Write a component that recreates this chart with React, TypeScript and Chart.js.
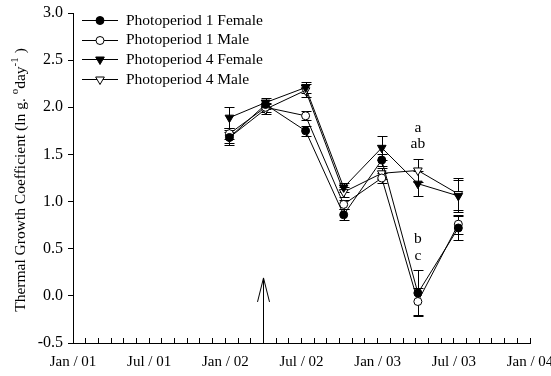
import React, { useEffect, useRef } from 'react';
import { Chart, registerables } from 'chart.js';
import { drawPoint } from 'chart.js/helpers';

Chart.register(...registerables);

// ---------- data ----------
const sampleDates = ['2002-01-11', '2002-04-06', '2002-07-11', '2002-10-11', '2003-01-11', '2003-04-06', '2003-07-12'];
const seriesNames = ['Photoperiod 1 Female', 'Photoperiod 1 Male', 'Photoperiod 4 Female', 'Photoperiod 4 Male'];

const p1Female = [1.68, 2.03, 1.75, 0.86, 1.44, 0.03, 0.72];
const p1Male = [1.72, 2.0, 1.91, 0.97, 1.25, -0.06, 0.76];
const p4Female = [1.89, 2.05, 2.21, 1.15, 1.57, 1.19, 1.06];
const p4Male = [1.68, 1.98, 2.18, 1.1, 1.3, 1.33, 1.08];

const p1FemaleErr = [0.06, 0.05, 0.05, 0.06, 0.06, 0.24, 0.13];
const p1MaleErr = [0.06, 0.05, 0.05, 0.05, 0.05, 0.14, 0.1];
const p4FemaleErr = [0.11, 0.05, 0.06, 0.05, 0.13, 0.13, 0.17];
const p4MaleErr = [0.08, 0.05, 0.07, 0.05, 0.06, 0.12, 0.17];

const axisStartYear = 2001;
const axisMonths = 36;
const majorEveryMonths = 6;
const majorMonthNames = ['Jan', 'Jul'];

const yMin = -0.5;
const yMax = 3.0;
const yStep = 0.5;

const letterLabels = ['a', 'ab', 'b', 'c'];
const letterValues = [1.78, 1.61, 0.6, 0.42];
const letterDate = '2003-04-06';

const arrowDate = '2002-04-01';
const arrowTipValue = 0.19;

const titleParts = [
  { text: 'Thermal Growth Coefficient (ln g. ', sup: false },
  { text: 'o', sup: true },
  { text: 'day', sup: false },
  { text: '-1', sup: true },
  { text: ' )', sup: false },
];

// ---------- helpers ----------
const FONT = 'Liberation Serif';

function toMonths(date: string): number {
  const [y, m, d] = date.split('-').map(Number);
  const dim = new Date(y, m, 0).getDate();
  return (y - axisStartYear) * 12 + (m - 1) + (d - 1) / dim;
}

const seriesValues = [p1Female, p1Male, p4Female, p4Male];
const seriesErrors = [p1FemaleErr, p1MaleErr, p4FemaleErr, p4MaleErr];
const seriesStyle = [
  { pointStyle: 'circle', rotation: 0, fill: '#000000', radius: 4 },
  { pointStyle: 'circle', rotation: 0, fill: '#ffffff', radius: 4 },
  { pointStyle: 'triangle', rotation: 180, fill: '#000000', radius: 5 },
  { pointStyle: 'triangle', rotation: 180, fill: '#ffffff', radius: 5 },
];

const errorBarsPlugin = {
  id: 'errorBars',
  beforeDatasetsDraw(chart: any) {
    const ctx = chart.ctx;
    const yScale = chart.scales.y;
    ctx.save();
    ctx.strokeStyle = '#000';
    ctx.lineWidth = 1;
    chart.data.datasets.forEach((ds: any, i: number) => {
      const meta = chart.getDatasetMeta(i);
      meta.data.forEach((el: any, j: number) => {
        const v = ds.data[j].y;
        const e = ds.errors[j];
        const x = Math.round(el.x) + 0.5;
        const yt = Math.round(yScale.getPixelForValue(v + e)) + 0.5;
        const yb = Math.round(yScale.getPixelForValue(v - e)) + 0.5;
        ctx.beginPath();
        ctx.moveTo(x, yt);
        ctx.lineTo(x, yb);
        ctx.moveTo(x - 5, yt);
        ctx.lineTo(x + 5, yt);
        ctx.moveTo(x - 5, yb);
        ctx.lineTo(x + 5, yb);
        ctx.stroke();
      });
    });
    ctx.restore();
  },
};

const annotationsPlugin = {
  id: 'annotations',
  afterDatasetsDraw(chart: any) {
    const ctx = chart.ctx;
    const xs = chart.scales.x;
    const ys = chart.scales.y;
    ctx.save();
    ctx.fillStyle = '#000';
    ctx.font = `15.5px "${FONT}"`;
    ctx.textAlign = 'center';
    ctx.textBaseline = 'middle';
    const lx = xs.getPixelForValue(toMonths(letterDate));
    letterLabels.forEach((t, i) => {
      ctx.fillText(t, lx, ys.getPixelForValue(letterValues[i]));
    });
    // arrow
    const ax = Math.round(xs.getPixelForValue(toMonths(arrowDate))) + 0.5;
    const ay0 = ys.getPixelForValue(yMin);
    const ay1 = ys.getPixelForValue(arrowTipValue);
    ctx.strokeStyle = '#000';
    ctx.lineWidth = 1;
    ctx.beginPath();
    ctx.moveTo(ax, ay0);
    ctx.lineTo(ax, ay1);
    ctx.moveTo(ax - 6, ay1 + 24);
    ctx.lineTo(ax, ay1);
    ctx.lineTo(ax + 6, ay1 + 24);
    ctx.stroke();
    ctx.restore();
  },
};

const legendPlugin = {
  id: 'customLegend',
  afterDraw(chart: any) {
    const ctx = chart.ctx;
    ctx.save();
    ctx.font = `15.5px "${FONT}"`;
    ctx.textBaseline = 'middle';
    ctx.textAlign = 'left';
    chart.data.datasets.forEach((ds: any, i: number) => {
      const y = 20 + i * 19.7;
      const yy = Math.round(y) + 0.5;
      ctx.strokeStyle = '#000';
      ctx.lineWidth = 1;
      ctx.beginPath();
      ctx.moveTo(82, yy);
      ctx.lineTo(118, yy);
      ctx.stroke();
      const st = seriesStyle[i];
      ctx.fillStyle = st.fill;
      ctx.strokeStyle = '#000';
      drawPoint(ctx, { pointStyle: st.pointStyle, rotation: st.rotation, radius: st.radius, borderWidth: 1 } as any, 100, yy);
      ctx.fillStyle = '#000';
      ctx.fillText(ds.label, 126, y + 0.5);
    });
    ctx.restore();
  },
};

const titlePlugin = {
  id: 'yTitle',
  afterDraw(chart: any) {
    const ctx = chart.ctx;
    const ca = chart.chartArea;
    const normal = `15.5px "${FONT}"`;
    const small = `11px "${FONT}"`;
    ctx.save();
    let total = 0;
    titleParts.forEach((p) => {
      ctx.font = p.sup ? small : normal;
      total += ctx.measureText(p.text).width;
    });
    ctx.translate(21, (ca.top + ca.bottom) / 2 + 2);
    ctx.rotate(-Math.PI / 2);
    ctx.fillStyle = '#000';
    ctx.textBaseline = 'middle';
    ctx.textAlign = 'left';
    let x = -total / 2;
    titleParts.forEach((p) => {
      ctx.font = p.sup ? small : normal;
      ctx.fillText(p.text, x, p.sup ? -6 : 0);
      x += ctx.measureText(p.text).width;
    });
    ctx.restore();
  },
};

export default function App() {
  const canvasRef = useRef<HTMLCanvasElement | null>(null);

  useEffect(() => {
    const canvas = canvasRef.current;
    if (!canvas) return;
    Chart.defaults.font.family = FONT;
    Chart.defaults.font.size = 15;
    Chart.defaults.color = '#000';

    const datasets = seriesNames.map((name, i) => ({
      label: name,
      data: sampleDates.map((d, j) => ({ x: toMonths(d), y: seriesValues[i][j] })),
      errors: seriesErrors[i],
      borderColor: '#000',
      borderWidth: 1,
      backgroundColor: seriesStyle[i].fill,
      pointStyle: seriesStyle[i].pointStyle,
      pointRotation: seriesStyle[i].rotation,
      pointRadius: seriesStyle[i].radius,
      pointHoverRadius: seriesStyle[i].radius,
      pointBackgroundColor: seriesStyle[i].fill,
      pointBorderColor: '#000',
      pointBorderWidth: 1,
      tension: 0,
      fill: false,
    }));

    const chart = new Chart(canvas, {
      type: 'line',
      data: { datasets } as any,
      options: {
        responsive: false,
        devicePixelRatio: 1,
        animation: false,
        events: [],
        layout: { padding: { left: 0, right: 21, top: 13, bottom: 0 } },
        plugins: {
          legend: { display: false },
          tooltip: { enabled: false },
        },
        scales: {
          x: {
            type: 'linear',
            min: 0,
            max: axisMonths,
            grid: {
              drawOnChartArea: false,
              drawTicks: true,
              tickLength: -5,
              tickColor: '#000',
            },
            border: { color: '#000', width: 1 },
            ticks: {
              stepSize: 1,
              maxTicksLimit: 100,
              autoSkip: false,
              maxRotation: 0,
              padding: 15,
              font: { size: 15, family: FONT },
              callback: (v: any) => {
                const n = Number(v);
                if (n % majorEveryMonths !== 0) return '';
                const year = axisStartYear + Math.floor(n / 12);
                const name = majorMonthNames[(n % 12) / majorEveryMonths];
                return `${name} / ${String(year % 100).padStart(2, '0')}`;
              },
            },
            afterFit: (scale: any) => {
              scale.height = 33;
              scale.paddingLeft = 0;
              scale.paddingRight = 0;
            },
          },
          y: {
            type: 'linear',
            min: yMin,
            max: yMax,
            grid: {
              drawOnChartArea: false,
              drawTicks: true,
              tickLength: 5,
              tickColor: '#000',
            },
            border: { color: '#000', width: 1 },
            ticks: {
              stepSize: yStep,
              maxTicksLimit: 100,
              padding: 5,
              font: { size: 16, family: FONT },
              callback: (v: any) => Number(v).toFixed(1),
            },
            afterFit: (scale: any) => {
              scale.width = 73;
              scale.paddingTop = 0;
              scale.paddingBottom = 0;
            },
          },
        },
      } as any,
      plugins: [errorBarsPlugin, annotationsPlugin, legendPlugin, titlePlugin],
    });
    return () => chart.destroy();
  }, []);

  return (
    <div style={{ position: 'fixed', left: 0, top: 0, width: 551, height: 376, background: '#fff' }}>
      <canvas ref={canvasRef} width={551} height={376} style={{ width: 551, height: 376, display: 'block' }} />
    </div>
  );
}
